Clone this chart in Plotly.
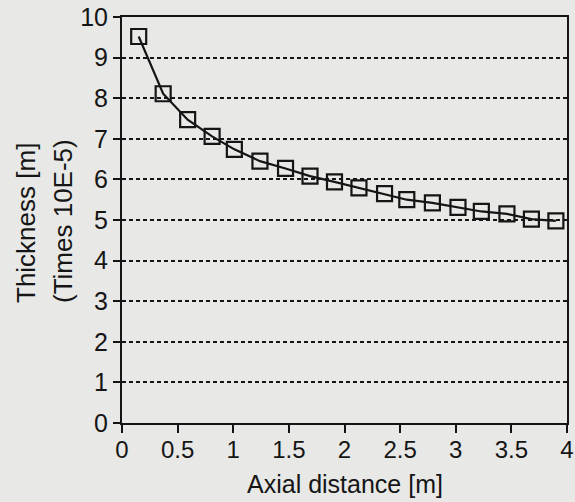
import plotly.graph_objects as go

axial_distance = [0.15, 0.37, 0.59, 0.81, 1.01, 1.24, 1.47, 1.69, 1.91, 2.13,
                  2.36, 2.56, 2.79, 3.02, 3.23, 3.46, 3.68, 3.90]
thickness = [9.52, 8.11, 7.47, 7.06, 6.74, 6.45, 6.27, 6.08, 5.94, 5.79,
             5.65, 5.50, 5.42, 5.31, 5.21, 5.15, 5.02, 4.98]
x_ticks = [0, 0.5, 1, 1.5, 2, 2.5, 3, 3.5, 4]
x_tick_labels = ["0", "0.5", "1", "1.5", "2", "2.5", "3", "3.5", "4"]
y_ticks = list(range(0, 11))

bg = "#e8e8e6"
ink = "#151515"
font = "Liberation Sans, Arial, sans-serif"

L, R, T, B = 122, 567, 17, 423
W, H = 575, 502

fig = go.Figure()
fig.add_trace(go.Scatter(
    x=axial_distance, y=thickness, mode="lines+markers",
    line=dict(color=ink, width=2.2),
    marker=dict(symbol="square-open", size=15, color=ink, line=dict(width=2.2, color=ink)),
    showlegend=False,
))

fig.update_layout(
    width=W, height=H,
    margin=dict(l=L, r=W - R, t=T, b=H - B),
    paper_bgcolor=bg, plot_bgcolor=bg,
    font=dict(family=font, size=25, color=ink),
    xaxis=dict(
        range=[0, 4], tickvals=x_ticks, ticktext=x_tick_labels, automargin=False,
        tickfont=dict(family=font, size=24, color=ink), ticklabelstandoff=-4,
        showline=True, linecolor=ink, linewidth=2, mirror=True,
        ticks="outside", ticklen=8, tickwidth=2, tickcolor=ink,
        showgrid=False, zeroline=False,
    ),
    yaxis=dict(
        range=[0, 10], tickvals=y_ticks, automargin=False,
        tickfont=dict(family=font, size=25, color=ink),
        showline=True, linecolor=ink, linewidth=2, mirror=True,
        ticks="outside", ticklen=7, tickwidth=2, tickcolor=ink,
        showgrid=True, gridcolor=ink, gridwidth=2, griddash="4px,3px",
        zeroline=False,
    ),
    annotations=[
        dict(text="Axial distance [m]", xref="paper", yref="paper",
             x=(345 - L) / (R - L), y=-(484 - B) / (B - T),
             xanchor="center", yanchor="middle", showarrow=False,
             font=dict(size=25, family=font, color=ink)),
        dict(text="Thickness [m]", xref="paper", yref="paper",
             x=(26 - L) / (R - L), y=(B - 223) / (B - T), textangle=-90,
             xanchor="center", yanchor="middle", showarrow=False,
             font=dict(size=26, family=font, color=ink)),
        dict(text="(Times 10E-5)", xref="paper", yref="paper",
             x=(63 - L) / (R - L), y=(B - 221) / (B - T), textangle=-90,
             xanchor="center", yanchor="middle", showarrow=False,
             font=dict(size=26, family=font, color=ink)),
    ],
)

fig.write_html("out.html")
